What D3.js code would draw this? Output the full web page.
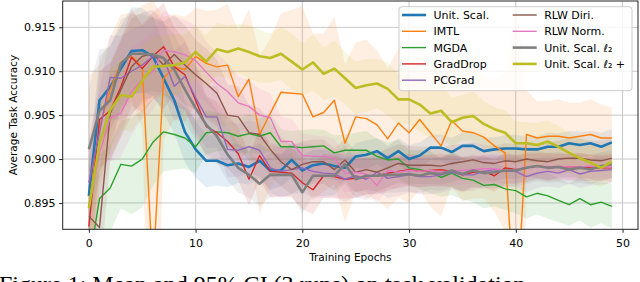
<!DOCTYPE html>
<html>
<head>
<meta charset="utf-8">
<script src="https://cdn.jsdelivr.net/npm/d3@7"></script>
<style>
  html, body { margin: 0; padding: 0; background: #fff; }
  svg { display: block; font-family: "DejaVu Sans", sans-serif; }
  .tick text { font-size: 11px; fill: #000; }
  .tick line { stroke: #222; }
</style>
</head>
<body>
<div class="viz"></div>
<script>
/* DATA */
const methods = ["Unit. Scal.", "IMTL", "MGDA", "GradDrop", "PCGrad",
                 "RLW Diri.", "RLW Norm.", "Unit. Scal. ℓ₂", "Unit. Scal. ℓ₂ +"];
const epochs = d3.range(50);
const xTicks = [0, 10, 20, 30, 40, 50];
const yTicks = [0.895, 0.900, 0.905, 0.910, 0.915];

// mean accuracy per epoch
const unitScal = [0.8958,0.9067,0.9082,0.9103,0.9123,0.9124,0.9117,0.9092,0.9067,0.9031,
  0.9011,0.8998,0.8998,0.8993,0.8995,0.8991,0.8998,0.8987,0.8987,0.8999,
  0.8987,0.8993,0.8995,0.8992,0.8990,0.9003,0.9005,0.9009,0.9001,0.9009,
  0.9000,0.9004,0.9013,0.9013,0.9008,0.9015,0.9015,0.9009,0.9011,0.9012,
  0.9012,0.9011,0.9011,0.9014,0.9014,0.9018,0.9016,0.9018,0.9014,0.9019];
const imtl = [0.8945,0.9037,0.9079,0.9110,0.9117,0.9105,0.8870,0.9092,0.9105,0.9102,
  0.9117,0.9109,0.9105,0.9107,0.9071,0.9091,0.9028,0.9052,0.9076,0.9075,
  0.9074,0.9048,0.9053,0.9067,0.9018,0.9048,0.9046,0.9039,0.9023,0.9041,
  0.9030,0.9045,0.9030,0.9015,0.9044,0.9032,0.9030,0.9025,0.9015,0.9007,
  0.8810,0.9028,0.9024,0.9026,0.9026,0.9024,0.9026,0.9028,0.9024,0.9024];
const mgda = [0.8880,0.8955,0.8967,0.8994,0.8992,0.9000,0.9019,0.9031,0.9028,0.9024,
  0.9014,0.9030,0.9031,0.9030,0.9026,0.9029,0.9026,0.9030,0.9014,0.9014,
  0.9013,0.9014,0.9015,0.9007,0.9010,0.9010,0.9010,0.9003,0.8999,0.9000,
  0.8990,0.8988,0.8985,0.8979,0.8984,0.8978,0.8976,0.8970,0.8971,0.8966,
  0.8964,0.8957,0.8961,0.8958,0.8953,0.8948,0.8955,0.8948,0.8951,0.8946];
const gradDrop = [0.8923,0.9045,0.9055,0.9082,0.9116,0.9103,0.9117,0.9128,0.9105,0.9096,
  0.9067,0.9037,0.9030,0.9020,0.9006,0.8977,0.9004,0.8986,0.8985,0.8984,
  0.8973,0.8965,0.8981,0.8980,0.8977,0.8978,0.8980,0.8981,0.8984,0.8986,
  0.8988,0.8986,0.8987,0.8988,0.8986,0.8982,0.8985,0.8986,0.8981,0.8990,
  0.8988,0.8990,0.8992,0.8991,0.8991,0.8991,0.8991,0.8990,0.8990,0.8990];
const pcGrad = [0.8973,0.9030,0.9093,0.9092,0.9100,0.9107,0.9117,0.9115,0.9083,0.9094,
  0.9070,0.9048,0.9048,0.9011,0.9010,0.9014,0.9010,0.8990,0.8986,0.8988,
  0.8990,0.8986,0.8984,0.8983,0.8977,0.8981,0.8977,0.8985,0.8978,0.8980,
  0.8982,0.8980,0.8980,0.8982,0.8985,0.8982,0.8982,0.8986,0.8988,0.8986,
  0.8986,0.8980,0.8984,0.8986,0.8984,0.8988,0.8983,0.8986,0.8987,0.8988];
const rlwDiri = [0.8935,0.8922,0.9052,0.9079,0.9105,0.9117,0.9120,0.9107,0.9119,0.9107,
  0.9096,0.9086,0.9075,0.9050,0.9048,0.9030,0.9028,0.9011,0.8997,0.8988,
  0.8994,0.8997,0.8997,0.8988,0.8999,0.8985,0.8988,0.8985,0.8990,0.8995,
  0.8993,0.8993,0.8993,0.8992,0.8995,0.8997,0.8999,0.8996,0.8995,0.8998,
  0.8997,0.9000,0.8998,0.8997,0.9000,0.9001,0.9001,0.8999,0.8998,0.9001];
const rlwNorm = [0.8945,0.9007,0.9047,0.9052,0.9077,0.9091,0.9100,0.9124,0.9122,0.9119,
  0.9112,0.9099,0.9086,0.9077,0.9064,0.9060,0.9050,0.9047,0.9020,0.9020,
  0.9004,0.9003,0.9003,0.9001,0.8984,0.8985,0.8983,0.8970,0.8987,0.8985,
  0.8987,0.8986,0.8987,0.8985,0.8987,0.8987,0.8988,0.8989,0.8989,0.8987,
  0.8988,0.8991,0.8992,0.8991,0.8992,0.8991,0.8991,0.8992,0.8991,0.8991];
const unitL2 = [0.9011,0.9055,0.9067,0.9109,0.9120,0.9120,0.9119,0.9115,0.9102,0.9079,
  0.9058,0.9039,0.9026,0.9005,0.8990,0.8982,0.8972,0.8982,0.8982,0.8982,
  0.8962,0.8981,0.8981,0.8981,0.8994,0.8977,0.8981,0.8981,0.8982,0.8982,
  0.8983,0.8981,0.8984,0.8983,0.8987,0.8983,0.8987,0.8984,0.8985,0.8987,
  0.8987,0.8990,0.8992,0.8990,0.8991,0.8988,0.8990,0.8988,0.8992,0.8994];
const unitL2Plus = [0.8944,0.9018,0.9056,0.9073,0.9071,0.9089,0.9105,0.9106,0.9107,0.9110,
  0.9122,0.9111,0.9125,0.9122,0.9126,0.9122,0.9117,0.9115,0.9120,0.9111,
  0.9102,0.9110,0.9097,0.9103,0.9092,0.9081,0.9084,0.9086,0.9080,0.9068,
  0.9068,0.9062,0.9052,0.9055,0.9042,0.9047,0.9049,0.9040,0.9034,0.9030,
  0.9018,0.9018,0.9016,0.9020,0.9014,0.9007,0.9001,0.8996,0.8990,0.8997];

// half width of the 95% CI per epoch
const unitScalCI = [0.004,0.005,0.0048,0.0048,0.005,0.0048,0.0045,0.004,0.0038,0.0035,
  0.0032,0.003,0.0028,0.0025,0.0022,0.002,0.002,0.0022,0.0018,0.002,
  0.0018,0.0017,0.0016,0.0016,0.0015,0.0015,0.0016,0.0015,0.0014,0.0015,
  0.0016,0.0015,0.0014,0.0015,0.0016,0.0015,0.0014,0.0015,0.0014,0.0015,
  0.0016,0.0014,0.0015,0.0016,0.0015,0.0014,0.0015,0.0014,0.0016,0.0015];
const imtlCI = [0.015,0.007,0.006,0.0055,0.005,0.007,0.031,0.007,0.006,0.006,
  0.0055,0.006,0.0065,0.007,0.0075,0.008,0.009,0.0085,0.009,0.0095,
  0.01,0.0095,0.009,0.0095,0.009,0.0085,0.009,0.0085,0.008,0.0085,
  0.008,0.008,0.0085,0.008,0.0075,0.008,0.0075,0.007,0.0075,0.009,
  0.037,0.005,0.0042,0.004,0.0042,0.004,0.0038,0.004,0.0038,0.0035];
const mgdaCI = [0.006,0.005,0.005,0.005,0.0055,0.0055,0.005,0.0045,0.004,0.0035,
  0.003,0.0025,0.0022,0.002,0.002,0.0022,0.002,0.0022,0.002,0.0018,
  0.002,0.002,0.0018,0.002,0.0018,0.002,0.0022,0.002,0.002,0.0022,
  0.002,0.0022,0.0024,0.0022,0.0025,0.0024,0.0025,0.0026,0.0025,0.0024,
  0.0026,0.0025,0.0024,0.0026,0.0025,0.0024,0.0025,0.0026,0.0024,0.0025];
const gradDropCI = [0.006,0.0055,0.0055,0.0055,0.0055,0.005,0.005,0.005,0.0045,0.004,
  0.004,0.0035,0.0035,0.003,0.003,0.003,0.0028,0.003,0.0028,0.0028,
  0.003,0.0028,0.0025,0.0025,0.0022,0.0022,0.002,0.002,0.002,0.0018,
  0.0018,0.0018,0.0018,0.0018,0.0018,0.002,0.0018,0.0018,0.0018,0.0018,
  0.0016,0.0016,0.0015,0.0016,0.0015,0.0015,0.0016,0.0015,0.0015,0.0016];
const pcGradCI = [0.005,0.005,0.0048,0.0048,0.0048,0.0045,0.0045,0.0042,0.004,0.004,
  0.0038,0.0035,0.0035,0.0032,0.003,0.003,0.003,0.0028,0.003,0.0028,
  0.0028,0.003,0.0028,0.0026,0.0026,0.0024,0.0024,0.0022,0.0022,0.0022,
  0.002,0.002,0.002,0.002,0.002,0.0018,0.0018,0.0018,0.0018,0.0018,
  0.0018,0.0018,0.0017,0.0017,0.0017,0.0016,0.0016,0.0016,0.0016,0.0016];
const rlwDiriCI = [0.006,0.006,0.0055,0.0055,0.0055,0.005,0.005,0.005,0.0045,0.0045,
  0.004,0.004,0.0038,0.0035,0.0035,0.0032,0.003,0.003,0.0028,0.0028,
  0.0026,0.0025,0.0025,0.0024,0.0024,0.0023,0.0023,0.0022,0.0022,0.0022,
  0.0022,0.0021,0.0021,0.0021,0.0021,0.002,0.002,0.002,0.002,0.002,
  0.002,0.002,0.002,0.0021,0.0021,0.0022,0.0022,0.0022,0.0023,0.0023];
const rlwNormCI = [0.006,0.0055,0.005,0.005,0.005,0.0045,0.0045,0.0045,0.004,0.004,
  0.004,0.0035,0.0035,0.0032,0.003,0.003,0.003,0.0028,0.0028,0.0026,
  0.0025,0.0024,0.0023,0.0022,0.0022,0.0021,0.002,0.002,0.002,0.0019,
  0.0018,0.0018,0.0017,0.0017,0.0017,0.0016,0.0016,0.0016,0.0015,0.0015,
  0.0015,0.0015,0.0014,0.0014,0.0014,0.0014,0.0014,0.0013,0.0013,0.0013];
const unitL2CI = [0.007,0.007,0.006,0.005,0.0045,0.0045,0.0042,0.004,0.004,0.0038,
  0.0035,0.0033,0.003,0.003,0.0028,0.0026,0.0026,0.0025,0.0024,0.0024,
  0.0024,0.0023,0.0023,0.0022,0.0022,0.0022,0.0021,0.0021,0.002,0.002,
  0.002,0.002,0.0019,0.0019,0.0019,0.0019,0.0018,0.0018,0.0018,0.0018,
  0.0018,0.0018,0.0017,0.0017,0.0017,0.0017,0.0017,0.0017,0.0016,0.0016];
const unitL2PlusCI = [0.005,0.0045,0.0045,0.004,0.004,0.004,0.0035,0.0035,0.0035,0.0032,
  0.003,0.003,0.003,0.003,0.0028,0.003,0.003,0.0028,0.003,0.0032,
  0.003,0.0032,0.003,0.0032,0.003,0.003,0.003,0.0028,0.003,0.0028,
  0.0028,0.003,0.0028,0.003,0.0028,0.0026,0.0028,0.0026,0.0025,0.0026,
  0.0025,0.0024,0.0025,0.0024,0.0024,0.0023,0.0023,0.0023,0.0022,0.0022];

const means = [unitScal, imtl, mgda, gradDrop, pcGrad, rlwDiri, rlwNorm, unitL2, unitL2Plus];
const cis = [unitScalCI, imtlCI, mgdaCI, gradDropCI, pcGradCI, rlwDiriCI, rlwNormCI, unitL2CI, unitL2PlusCI];

const colors = ["#1f77b4", "#ff7f0e", "#2ca02c", "#d62728", "#9467bd",
                "#8c564b", "#e377c2", "#7f7f7f", "#bcbd22"];
const thick = [true, false, false, false, false, false, false, true, true];

/* LAYOUT */
const W = 640, H = 282;
const plot = { left: 62.7, right: 638, top: 1, bottom: 229.3 };

const svg = d3.select('.viz')
    .append('svg')
    .attr('width', W)
    .attr('height', H);

const x = d3.scaleLinear().domain([-2.45, 51.45]).range([plot.left, plot.right]);
const y = d3.scaleLinear().domain([0.892, 0.918]).range([plot.bottom, plot.top]);

svg.append("defs").append("clipPath")
    .attr("id", "clip")
    .append("rect")
    .attr("x", plot.left).attr("y", plot.top)
    .attr("width", plot.right - plot.left)
    .attr("height", plot.bottom - plot.top);

// grid
const grid = svg.append("g").attr("stroke", "#c8c8c8").attr("stroke-width", 1);
grid.selectAll(".vg").data(xTicks).enter().append("line")
    .attr("x1", d => x(d)).attr("x2", d => x(d))
    .attr("y1", plot.top).attr("y2", plot.bottom);
grid.selectAll(".hg").data(yTicks).enter().append("line")
    .attr("x1", plot.left).attr("x2", plot.right)
    .attr("y1", d => y(d)).attr("y2", d => y(d));

const chart = svg.append("g").attr("clip-path", "url(#clip)");

// bands
means.forEach(function(m, k) {
    const area = d3.area()
        .x(d => x(d))
        .y0(d => y(m[d] - cis[k][d]))
        .y1(d => y(m[d] + cis[k][d]));
    chart.append("path")
        .attr("d", area(epochs))
        .attr("fill", colors[k])
        .attr("fill-opacity", 0.12);
});

// lines
means.forEach(function(m, k) {
    const line = d3.line()
        .x(d => x(d))
        .y(d => y(m[d]));
    chart.append("path")
        .attr("d", line(epochs))
        .attr("fill", "none")
        .attr("stroke", colors[k])
        .attr("stroke-width", thick[k] ? 2.6 : 1.4)
        .attr("stroke-linejoin", "round");
});

// axes
const xAxis = svg.append("g")
    .attr("transform", `translate(0,${plot.bottom})`)
    .call(d3.axisBottom(x).tickValues(xTicks).tickSize(3.5).tickPadding(5.9));
const yAxis = svg.append("g")
    .attr("transform", `translate(${plot.left},0)`)
    .call(d3.axisLeft(y).tickValues(yTicks).tickFormat(d3.format(".3f")).tickSize(3.5).tickPadding(3.7));
xAxis.select(".domain").remove();
yAxis.select(".domain").remove();
svg.selectAll(".tick text").attr("font-family", "DejaVu Sans");

svg.append("rect")
    .attr("x", plot.left).attr("y", plot.top)
    .attr("width", plot.right - plot.left)
    .attr("height", plot.bottom - plot.top)
    .attr("fill", "none")
    .attr("stroke", "#222")
    .attr("stroke-width", 1);

// axis labels
svg.append("text")
    .attr("x", (plot.left + plot.right) / 2)
    .attr("y", 261)
    .attr("text-anchor", "middle")
    .attr("font-size", "10.5px")
    .text("Training Epochs");

svg.append("text")
    .attr("transform", "translate(17,115) rotate(-90)")
    .attr("text-anchor", "middle")
    .attr("font-size", "10.5px")
    .text("Average Task Accuracy");

/* LEGEND */
const leg = svg.append("g");
leg.append("rect")
    .attr("x", 399).attr("y", 6.7)
    .attr("width", 233).attr("height", 84)
    .attr("rx", 3)
    .attr("fill", "#fff").attr("fill-opacity", 0.8)
    .attr("stroke", "#cccccc").attr("stroke-width", 1);

const colX = [402, 512.7];
const rowY = [15, 31.3, 47.6, 63.9, 80.2];
methods.forEach(function(name, k) {
    const col = k < 5 ? 0 : 1;
    const row = k < 5 ? k : k - 5;
    leg.append("line")
        .attr("x1", colX[col]).attr("x2", colX[col] + 24)
        .attr("y1", rowY[row]).attr("y2", rowY[row])
        .attr("stroke", colors[k])
        .attr("stroke-width", thick[k] ? 2.6 : 1.4);
    leg.append("text")
        .attr("x", colX[col] + 31.5)
        .attr("y", rowY[row] + 4)
        .attr("font-size", "11px")
        .text(name);
});

// caption, cut by the bottom edge as in the source page
svg.append("text")
    .attr("x", -1)
    .attr("y", 292)
    .attr("font-family", "Liberation Serif, serif")
    .attr("font-size", "24px")
    .text("Figure 1: Mean and 95% CI (3 runs) on task validation");
</script>
</body>
</html>
